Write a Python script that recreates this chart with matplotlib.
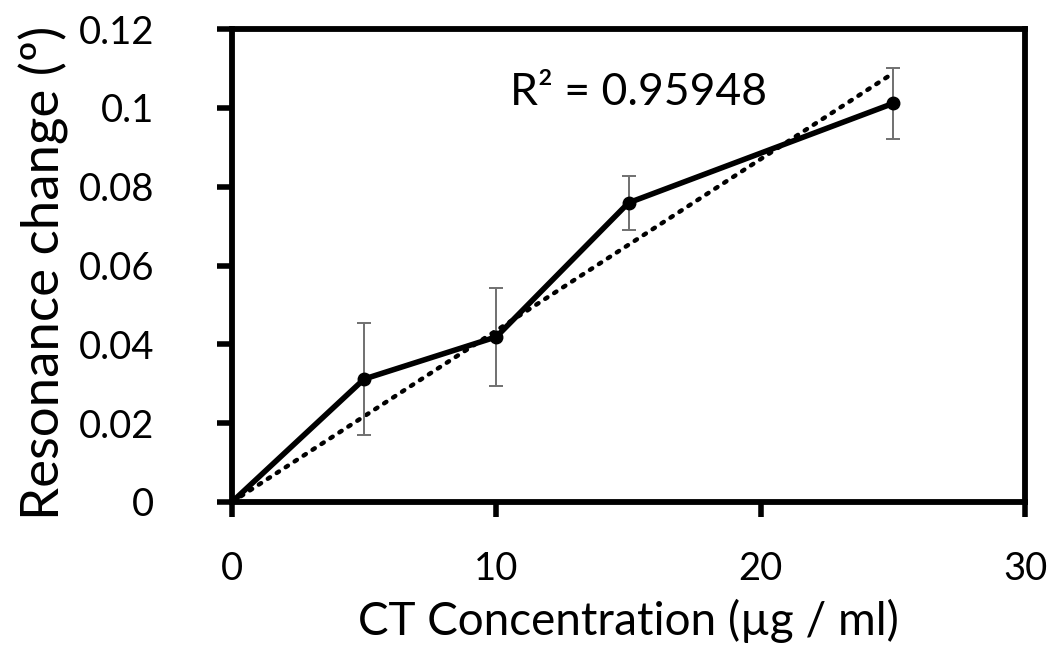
import numpy as np
import matplotlib
matplotlib.use("Agg")
import matplotlib.pyplot as plt

# Data
concentration = [0, 5, 10, 15, 25]
resonance = [0.0, 0.0312, 0.0419, 0.0759, 0.1011]
error = [0.0, 0.0142, 0.0124, 0.0069, 0.0091]
x_ticks = [0, 10, 20, 30]
y_ticks = [0, 0.02, 0.04, 0.06, 0.08, 0.1, 0.12]
y_tick_labels = ["0", "0.02", "0.04", "0.06", "0.08", "0.1", "0.12"]
r2_text = "R\u00b2 = 0.95948"

plt.rcParams['font.family'] = ['Lato', 'DejaVu Sans']

fig = plt.figure(figsize=(10.55, 6.51), dpi=100)
ax = fig.add_axes([232/1055, 1 - 502/651, (1025-232)/1055, (502-29)/651])

x = np.array(concentration, dtype=float)
y = np.array(resonance, dtype=float)
# linear trendline through origin
slope = np.sum(x * y) / np.sum(x * x)
xt = np.array([0, x.max()])
ax.plot(xt, slope * xt, linestyle=(0, (0.6, 1.8)), color='black', lw=3.2,
        dash_capstyle='round', zorder=2)

ax.errorbar(x, y, yerr=error, fmt='none', ecolor='#707070', elinewidth=1.4,
            capsize=5, capthick=1.4, zorder=3)
ax.plot(x, y, color='black', lw=4.0, marker='o', markersize=9,
        markerfacecolor='black', zorder=4)

ax.set_xlim(0, 30)
ax.set_ylim(0, 0.12)
ax.set_xticks(x_ticks)
ax.set_yticks(y_ticks)
ax.set_yticklabels(y_tick_labels)

for s in ax.spines.values():
    s.set_linewidth(4.2)
    s.set_color('black')
    s.set_capstyle('projecting')

ax.tick_params(axis='both', direction='out', length=11, width=4.0,
               labelsize=27.5, colors='black')
ax.tick_params(axis='x', pad=24)
ax.tick_params(axis='y', pad=45)

ax.set_xlabel("CT Concentration (\u00b5g / ml)", fontsize=33)
ax.xaxis.set_label_coords(0.5, -0.205)
ax.set_ylabel("Resonance change (\u00ba)", fontsize=38)
ax.yaxis.set_label_coords(-0.205, 0.484)

ax.text(10.5, 0.1038, r2_text, fontsize=32, color='black', ha='left', va='center')

fig.savefig("out.png", dpi=100)
